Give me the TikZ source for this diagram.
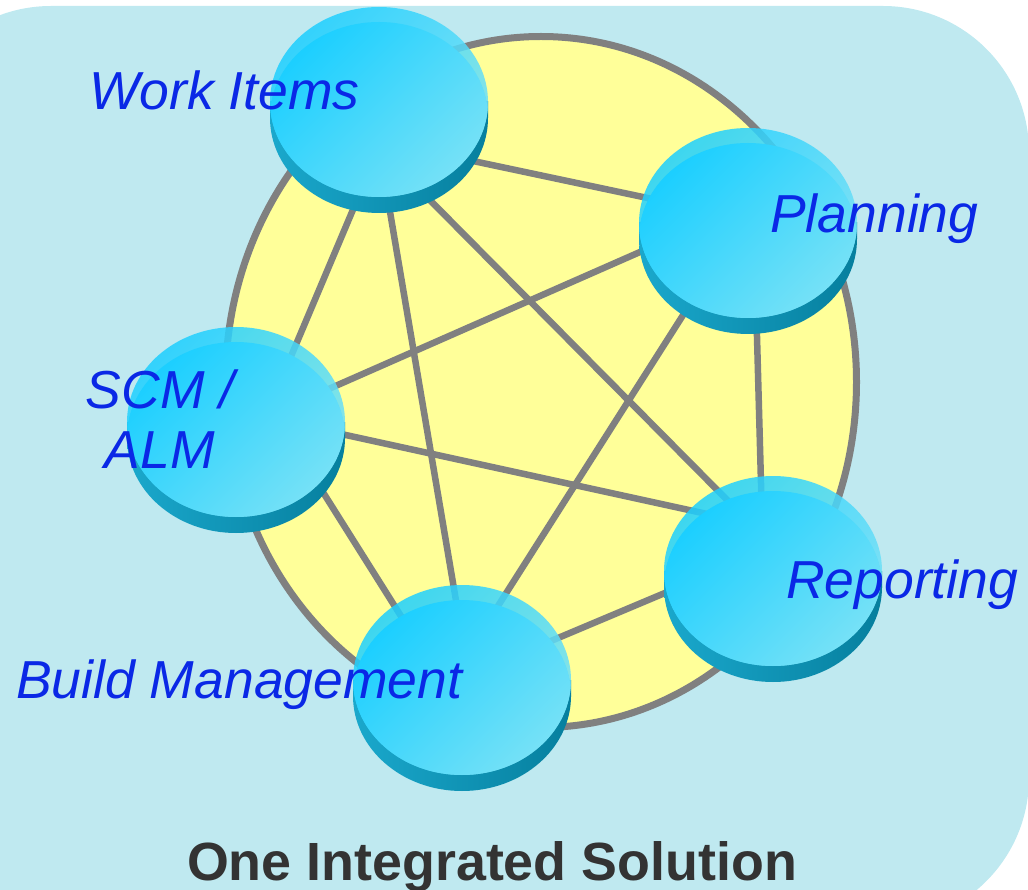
\documentclass[tikz,border=0pt]{standalone}
\usepackage{fontspec}
\setmainfont{Liberation Sans}
\usetikzlibrary{calc,shapes.geometric}
\definecolor{bgblue}{HTML}{BFE9F0}
\definecolor{yel}{HTML}{FFFF99}
\definecolor{lgray}{HTML}{808080}
\definecolor{txtblue}{HTML}{0A28E6}
\definecolor{facetl}{HTML}{1CCFFF}
\definecolor{facebr}{HTML}{7AE2F6}
\definecolor{sidel}{HTML}{1AA8CC}
\definecolor{sider}{HTML}{067F9E}
\definecolor{ttl}{HTML}{333333}
\newcommand\drawdisk[1]{%
  \shade[left color=sidel,right color=sider] ($(#1.center)+(-109,0)$) rectangle ($(#1.center)+(109,16)$);
  \shade[left color=sidel,right color=sider] ($(#1.center)+(0,16)$) ellipse [x radius=109pt,y radius=95pt];
  \shade[top color=facetl,bottom color=facebr,shading angle=45,fill opacity=0.85] (#1.center) ellipse [x radius=109pt,y radius=95pt];
  \begin{scope}
    \clip (#1.center) ellipse [x radius=109pt,y radius=95pt];
    \shade[top color=facetl,bottom color=facebr,shading angle=45] ($(#1.center)+(0,15)$) ellipse [x radius=109pt,y radius=95pt];
  \end{scope}}
\begin{document}
\begin{tikzpicture}[x=1pt,y=-1pt,
  diskn/.style={ellipse,minimum width=218pt,minimum height=190pt,inner sep=0pt},
  conn/.style={draw=lgray,line width=6.5pt},
  lbl/.style={font=\fontsize{53.5}{60}\selectfont\itshape,text=txtblue,inner sep=0pt}]
\useasboundingbox (0,0) rectangle (1028,890);
\begin{scope}
  \clip (0,0) rectangle (1028,890);
  \fill[bgblue,rounded corners=146pt] (-95,6) rectangle (1029,924);
\end{scope}
\draw[lgray,line width=7pt,fill=yel] (541,382) ellipse [x radius=315.5pt,y radius=345.5pt];
% disk anchors
\node[diskn] (wi) at (379,102) {};
\node[diskn] (pl) at (748,223) {};
\node[diskn] (scm) at (236,422) {};
\node[diskn] (rp) at (773,571) {};
\node[diskn] (bm) at (462,680) {};
% connectors
\draw[conn] ($(wi)+(61,52)$) -- ($(pl)+(-58,-16)$);
\draw[conn] ($(wi)+(-13.5,78)$) -- ($(scm)+(45,-42)$);
\draw[conn] ($(wi)+(5.6,78)$) -- ($(bm)+(-1,-50)$);
\draw[conn] ($(wi)+(31,78)$) -- ($(rp)+(-28,-53)$);
\draw[conn] ($(pl)+(-58,7)$) -- ($(scm)+(54,-16)$);
\draw[conn] ($(pl)+(-49,67)$) -- ($(bm)+(20.7,-50)$);
\draw[conn] ($(pl)+(8,77)$) -- ($(rp)+(-11,-51)$);
\draw[conn] ($(scm)+(64,3)$) -- ($(rp)+(-43,-52)$);
\draw[conn] ($(scm)+(73,48)$) -- ($(bm)+(-46,-40)$);
\draw[conn] ($(bm)+(58,-26)$) -- ($(rp)+(-63,3)$);
% disks
\drawdisk{wi}
\drawdisk{pl}
\drawdisk{scm}
\drawdisk{rp}
\drawdisk{bm}
% labels
\node[lbl,anchor=base west] (twi) at (89,110) {Work Items};
\node[lbl,anchor=base west] (tpl) at (770,233) {Planning};
\node[lbl,anchor=base] (tscma) at (160,408) {SCM /};
\node[lbl,anchor=base] (tscmb) at (160,468) {ALM};
\node[lbl,anchor=base west] (trp) at (786,598) {Reporting};
\node[lbl,anchor=base west] (tbm) at (16,698) {Build Management};
\node[font=\bfseries\fontsize{53.8}{60}\selectfont,text=ttl,inner sep=0pt,anchor=base] (ttl) at (492,880) {One Integrated Solution};
\end{tikzpicture}
\end{document}
